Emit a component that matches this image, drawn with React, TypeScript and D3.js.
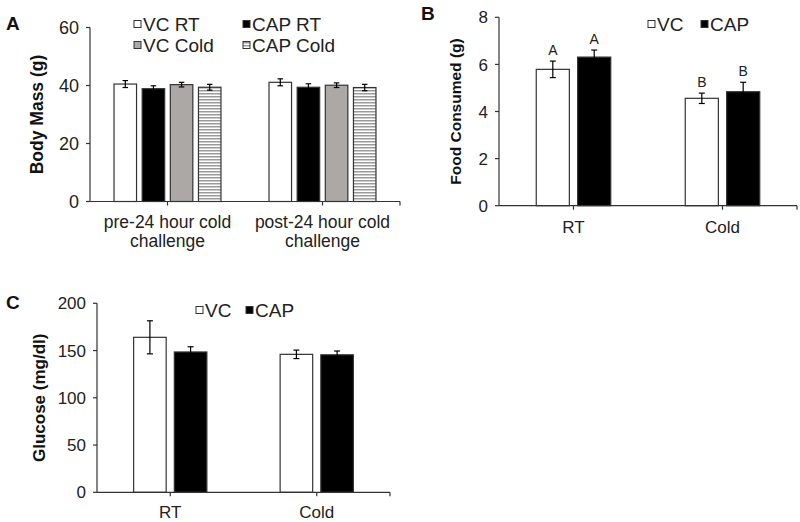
import React from "react";
import * as d3 from "d3";

// ---- Panel A data ----
const aCategories = ["pre-24 hour cold|challenge", "post-24 hour cold|challenge"];
const aSeries = ["VC RT", "CAP RT", "VC Cold", "CAP Cold"];
const aValues = [
  [40.5, 38.9, 40.3, 39.4],
  [41.1, 39.4, 40.1, 39.3],
];
const aErrors = [
  [1.2, 1.0, 0.8, 1.0],
  [1.2, 1.2, 0.8, 1.1],
];
const aTicks = [0, 20, 40, 60];

// ---- Panel B data ----
const bCategories = ["RT", "Cold"];
const bSeries = ["VC", "CAP"];
const bValues = [
  [5.79, 6.31],
  [4.56, 4.84],
];
const bErrors = [
  [0.35, 0.3],
  [0.22, 0.4],
];
const bLetters = [
  ["A", "A"],
  ["B", "B"],
];
const bTicks = [0, 2, 4, 6, 8];

// ---- Panel C data ----
const cCategories = ["RT", "Cold"];
const cSeries = ["VC", "CAP"];
const cValues = [
  [164, 148.5],
  [146, 145.5],
];
const cErrors = [
  [17.5, 5.5],
  [4.5, 4],
];
const cTicks = [0, 50, 100, 150, 200];

const FONT = "'Liberation Sans', Arial, sans-serif";
const STROKE = "#333";
const fills: Record<string, string> = {
  "VC RT": "#ffffff",
  "CAP RT": "#000000",
  "VC Cold": "#aba8a6",
  "CAP Cold": "url(#hatch)",
  VC: "#ffffff",
  CAP: "#000000",
};

type PanelProps = {
  left: number;
  right: number;
  top: number;
  bottom: number;
  max: number;
  ticks: number[];
  categories: string[];
  series: string[];
  values: number[][];
  errors: number[][];
  groupFrac: number;
  barFrac: number;
  tickFont: number;
  catFont: number;
  catY: number;
  yLabel: string;
  yLabelX: number;
  yLabelFont: number;
  capW: number;
  letters?: string[][];
};

function Panel(p: PanelProps) {
  const y = d3.scaleLinear().domain([0, p.max]).range([p.bottom, p.top]);
  const x0 = d3.scaleBand().domain(p.categories).range([p.left, p.right]).paddingInner(0).paddingOuter(0);
  const bw = x0.bandwidth();
  const x1 = d3
    .scaleBand()
    .domain(p.series)
    .range([0, bw * p.groupFrac])
    .paddingInner(1 - p.barFrac)
    .paddingOuter(0);
  const groupOffset = (bw - bw * p.groupFrac) / 2;
  const yMid = (p.top + p.bottom) / 2;
  return (
    <g fontFamily={FONT}>
      {p.categories.map((c, ci) => (
        <g key={c}>
          {p.series.map((s, si) => {
            const v = p.values[ci][si];
            const e = p.errors[ci][si];
            const bx = (x0(c) as number) + groupOffset + (x1(s) as number);
            const w = x1.bandwidth();
            const cx = bx + w / 2;
            return (
              <g key={s}>
                <rect x={bx} y={y(v)} width={w} height={y(0) - y(v)} fill={fills[s]} stroke={STROKE} strokeWidth={1.2} />
                <g stroke="#000" strokeWidth={1.2}>
                  <line x1={cx} x2={cx} y1={y(v + e)} y2={y(v - e)} />
                  <line x1={cx - p.capW / 2} x2={cx + p.capW / 2} y1={y(v + e)} y2={y(v + e)} />
                  <line x1={cx - p.capW / 2} x2={cx + p.capW / 2} y1={y(v - e)} y2={y(v - e)} />
                </g>
                {p.letters && (
                  <text x={cx} y={y(v + e) - 6} textAnchor="middle" fontSize={14} fill="#222">
                    {p.letters[ci][si]}
                  </text>
                )}
              </g>
            );
          })}
        </g>
      ))}
      {/* y axis */}
      <line x1={p.left} x2={p.left} y1={p.top} y2={p.bottom} stroke={STROKE} strokeWidth={1.2} />
      {p.ticks.map((t) => (
        <g key={t}>
          <line x1={p.left - 4} x2={p.left} y1={y(t)} y2={y(t)} stroke={STROKE} strokeWidth={1.2} />
          <text x={p.left - 11} y={y(t)} dy="0.36em" textAnchor="end" fontSize={p.tickFont} fill="#222">
            {t}
          </text>
        </g>
      ))}
      {/* x axis */}
      <line x1={p.left} x2={p.right} y1={p.bottom} y2={p.bottom} stroke={STROKE} strokeWidth={1.2} />
      {p.categories.map((c) => {
        const cx = (x0(c) as number) + bw / 2;
        const lines = c.split("|");
        return (
          <g key={c}>
            <line x1={cx} x2={cx} y1={p.bottom} y2={p.bottom + 4} stroke={STROKE} strokeWidth={1.2} />
            {lines.map((l, li) => (
              <text key={li} x={cx} y={p.catY + li * 19} textAnchor="middle" fontSize={p.catFont} fill="#222">
                {l}
              </text>
            ))}
          </g>
        );
      })}
      <line x1={p.right} x2={p.right} y1={p.bottom} y2={p.bottom + 4} stroke={STROKE} strokeWidth={1.2} />
      <text
        transform={`translate(${p.yLabelX},${yMid}) rotate(-90)`}
        textAnchor="middle"
        fontSize={p.yLabelFont}
        fontWeight="bold"
        fill="#111"
      >
        {p.yLabel}
      </text>
    </g>
  );
}

function LegendItem({ x, y, label, fill, size }: { x: number; y: number; label: string; fill: string; size: number }) {
  return (
    <g fontFamily={FONT}>
      <rect x={x} y={y - 10.5} width={7} height={7} fill={fill} stroke={STROKE} strokeWidth={1} />
      <text x={x + 9} y={y} fontSize={size} fill="#222">
        {label}
      </text>
    </g>
  );
}

export default function App() {
  return (
    <svg width={800} height={522} style={{ position: "absolute", left: 0, top: 0, background: "#fff" }}>
      <defs>
        <pattern id="hatch" patternUnits="userSpaceOnUse" width={4} height={3}>
          <rect width={4} height={3} fill="#fff" />
          <rect width={4} height={1.5} fill="#9a9a9a" />
        </pattern>
      </defs>
      <rect width={800} height={522} fill="#fff" />

      {/* Panel A */}
      <Panel
        left={90}
        right={400}
        top={27.5}
        bottom={201.5}
        max={60}
        ticks={aTicks}
        categories={aCategories}
        series={aSeries}
        values={aValues}
        errors={aErrors}
        groupFrac={0.69}
        barFrac={0.8}
        tickFont={18}
        catFont={17.5}
        catY={228}
        yLabel="Body Mass (g)"
        yLabelX={43}
        yLabelFont={17.5}
        capW={5.5}
      />
      <text x={6} y={30} fontFamily={FONT} fontWeight="bold" fontSize={19} fill="#111">A</text>
      <LegendItem x={134} y={31} label="VC RT" fill={fills["VC RT"]} size={19} />
      <LegendItem x={243} y={31} label="CAP RT" fill={fills["CAP RT"]} size={19} />
      <LegendItem x={134} y={52} label="VC Cold" fill={fills["VC Cold"]} size={19} />
      <LegendItem x={243} y={52} label="CAP Cold" fill={fills["CAP Cold"]} size={19} />

      {/* Panel B */}
      <Panel
        left={499}
        right={797}
        top={17.3}
        bottom={205.7}
        max={8}
        ticks={bTicks}
        categories={bCategories}
        series={bSeries}
        values={bValues}
        errors={bErrors}
        groupFrac={0.5}
        barFrac={0.8}
        tickFont={17}
        catFont={17}
        catY={233}
        yLabel="Food Consumed (g)"
        yLabelX={461}
        yLabelFont={15.5}
        capW={6}
        letters={bLetters}
      />
      <text x={421} y={20} fontFamily={FONT} fontWeight="bold" fontSize={19} fill="#111">B</text>
      <LegendItem x={648} y={31} label="VC" fill={fills["VC"]} size={19} />
      <LegendItem x={701} y={31} label="CAP" fill={fills["CAP"]} size={19} />

      {/* Panel C */}
      <Panel
        left={97}
        right={390}
        top={303.3}
        bottom={492.3}
        max={200}
        ticks={cTicks}
        categories={cCategories}
        series={cSeries}
        values={cValues}
        errors={cErrors}
        groupFrac={0.5}
        barFrac={0.8}
        tickFont={17}
        catFont={17}
        catY={518}
        yLabel="Glucose (mg/dl)"
        yLabelX={45}
        yLabelFont={17}
        capW={6}
      />
      <text x={6} y={309} fontFamily={FONT} fontWeight="bold" fontSize={19} fill="#111">C</text>
      <LegendItem x={196} y={317} label="VC" fill={fills["VC"]} size={19} />
      <LegendItem x={246} y={317} label="CAP" fill={fills["CAP"]} size={19} />
    </svg>
  );
}
